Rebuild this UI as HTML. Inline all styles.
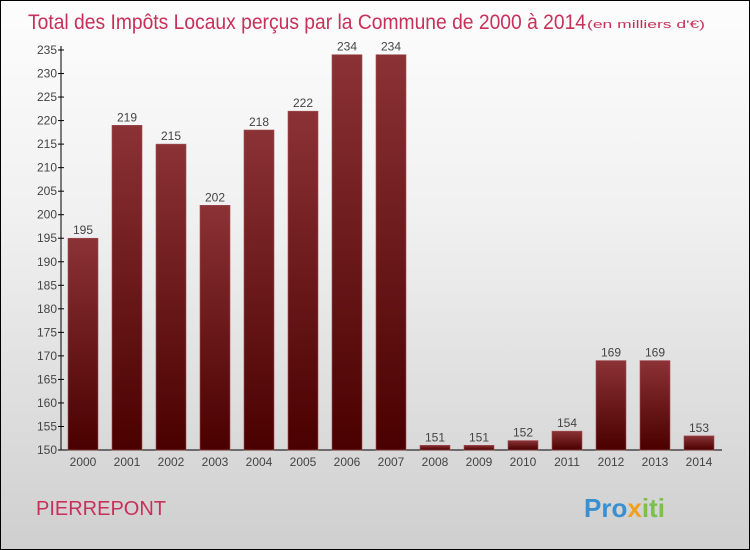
<!DOCTYPE html>
<html><head><meta charset="utf-8"><style>
body{margin:0}
#c{width:748px;height:548px;border:1px solid #000;background:linear-gradient(#fdfdfd,#f0f0f0 40%,#cfcfcf);position:relative;font-family:"Liberation Sans",sans-serif;overflow:hidden}
</style></head><body>
<div id="c">
<svg width="748" height="548">
<defs><linearGradient id="g" x1="0" y1="0" x2="0" y2="1"><stop offset="0" stop-color="#8b3236"/><stop offset="1" stop-color="#4a0000"/></linearGradient></defs>
<text x="27" y="28" font-size="21" fill="#c8305a" textLength="558" lengthAdjust="spacingAndGlyphs">Total des Impôts Locaux perçus par la Commune de 2000 à 2014</text>
<text x="586" y="27" font-size="11" fill="#c8305a" textLength="118" lengthAdjust="spacingAndGlyphs">(en milliers d'€)</text>
<g id="plot"></g>
<text x="35" y="514" font-size="20" fill="#c8305a">PIERREPONT</text>
<text x="583" y="516" font-size="26" font-weight="bold"><tspan fill="#3a8fd0">Pro</tspan><tspan fill="#f0a020">x</tspan><tspan fill="#7cc04a">iti</tspan></text>
</svg></div>
<script>
const years=["2000","2001","2002","2003","2004","2005","2006","2007","2008","2009","2010","2011","2012","2013","2014"];
const values=[195,219,215,202,218,222,234,234,151,151,152,154,169,169,153];
const yTicks=[150,155,160,165,170,175,180,185,190,195,200,205,210,215,220,225,230,235];
const NS="http://www.w3.org/2000/svg";
const g=document.getElementById('plot');
const x0=59,step=44,y0=449,yMin=150,yMax=235,yTop=49;
const y=v=>y0-(v-yMin)*(y0-yTop)/(yMax-yMin);
function el(t,a){const e=document.createElementNS(NS,t);for(const k in a)e.setAttribute(k,a[k]);g.appendChild(e);return e;}
const ax=el('line',{x1:x0+1,y1:y0,x2:x0+1,y2:yTop-4,stroke:'#000'});


const bx=el('line',{x1:x0,y1:y0,x2:x0+15*step+2,y2:y0,stroke:'#000'});


yTicks.forEach(v=>{
 const tk=el('line',{x1:x0-2,y1:y(v),x2:x0+4,y2:y(v),stroke:'#000'});
 
 
 const t=el('text',{x:x0-3,y:y(v)+4,'font-size':12,fill:'#444','text-anchor':'end'});
 t.textContent=v;
 
 
});
years.forEach((yr,i)=>{
 const cx=x0+step/2+i*step+1,v=values[i];
 const r=el('rect',{x:cx-15,y:y(v),width:30,height:y0-y(v),fill:'url(#g)',stroke:'#a05055','stroke-width':0.6});
 
 
 const l=el('text',{x:cx,y:y(v)-4,'font-size':12,fill:'#444','text-anchor':'middle'});
 l.textContent=v;
 
 
 const xl=el('text',{x:cx,y:y0+16,'font-size':12,fill:'#444','text-anchor':'middle'});
 xl.textContent=yr;
 
 
});
</script>
</body></html>
